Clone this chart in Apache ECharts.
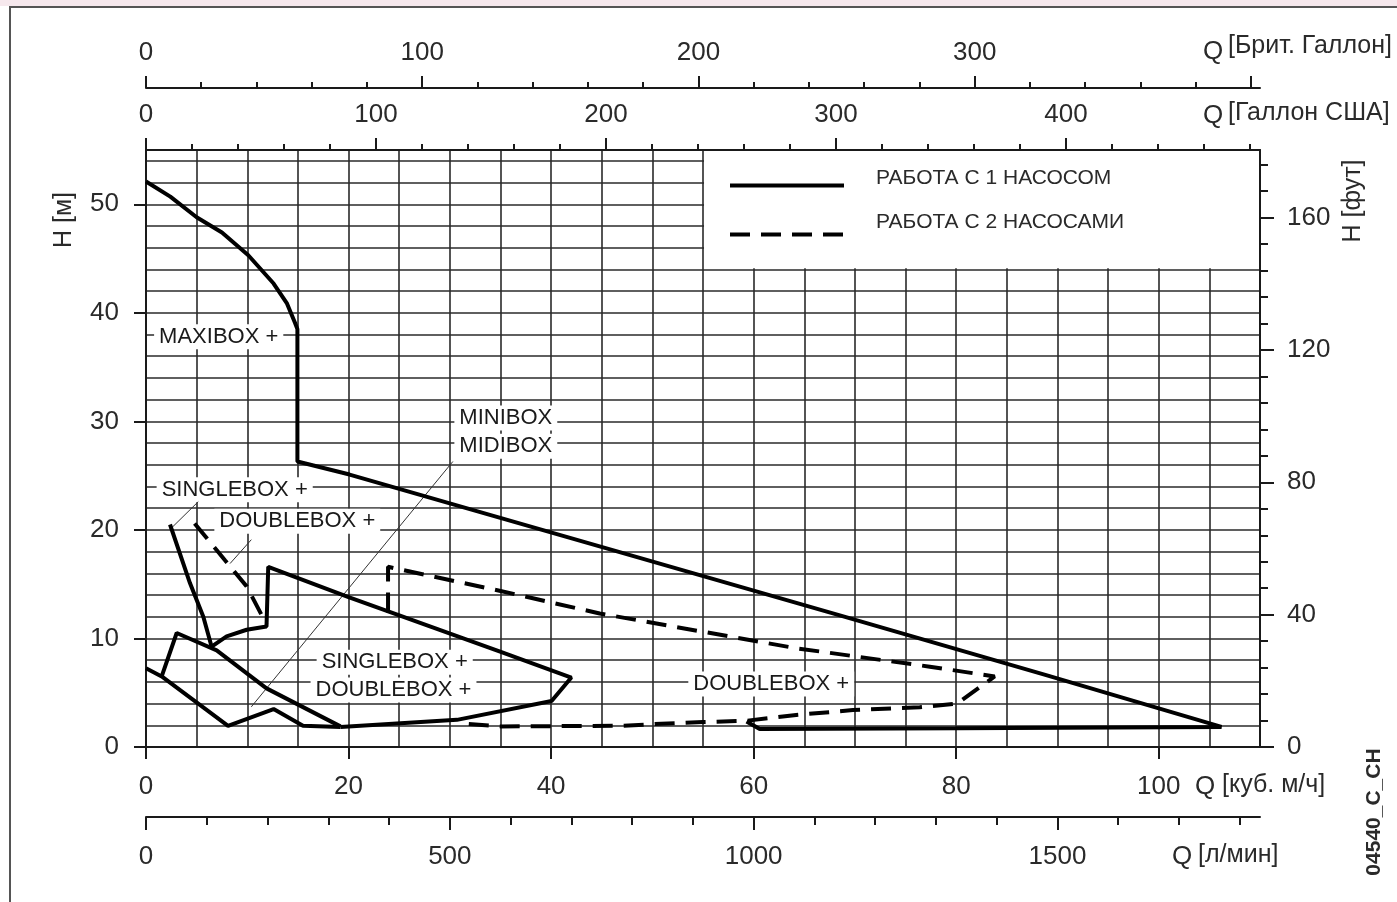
<!DOCTYPE html>
<html><head><meta charset="utf-8">
<script src="https://cdn.jsdelivr.net/npm/echarts@6/dist/echarts.min.js"></script>
<style>html,body{margin:0;padding:0;background:#fff}#c{width:1397px;height:902px}</style>
</head><body><div id="c"></div>
<script>
// ---------------- data ----------------
const SOLID = 'РАБОТА С 1 НАСОСОМ';
const DASHED = 'РАБОТА С 2 НАСОСАМИ';

// curves: [Q m3/h, H m]
const maxiBox1 = [[0,52.1],[2.4,50.7],[5.0,48.8],[7.5,47.4],[10.1,45.3],[12.6,42.7],[13.9,40.9],[14.7,39.1],[14.95,38.5],[14.95,26.3],[20.1,25.1],[46.6,18.0],[68.6,12.1],[88.8,6.65],[106.2,1.85],[80.0,1.72],[60.6,1.65],[59.3,2.35]];
const miniMidiLower = [[0,7.25],[1.55,6.5],[8.1,1.95],[12.6,3.5],[15.5,1.95],[19.2,1.85]];
const miniMidiUpper = [[1.55,6.5],[3.03,10.5],[6.98,8.9],[11.9,5.4],[19.2,1.9]];
const singleDoubleBox1 = [[19.2,1.85],[30.7,2.5],[40.05,4.24],[42.0,6.4],[34.9,8.8],[20.0,13.8],[12.07,16.6],[11.9,11.1],[9.94,10.8],[7.96,10.2],[6.48,9.24]];
const singleBox1 = [[6.48,9.24],[5.66,12.0],[4.34,15.1],[2.37,20.5]];
const doubleBox2Left = [[4.8,20.6],[7.8,17.2],[9.94,14.8],[11.9,11.3]];
const doubleBox2Right = [[23.9,12.4],[23.9,16.6],[34.9,14.4],[44.8,12.3],[64.2,9.1],[77.4,7.4],[83.8,6.5],[80.1,4.0],[76.4,3.66],[69.8,3.4],[64.2,2.95],[59.3,2.42],[55.0,2.3],[50.0,2.1],[46.8,1.95],[35.0,1.9],[30.9,2.2]];

// leader lines
const leaderMiniMidi = [[30.3,26.3],[10.4,3.7]];
const leaderSingle = [[5.16,22.6],[2.54,20.2]];
const leaderDouble = [[10.4,19.1],[8.3,16.9]];

// annotations: [text, Q, H]
const annotations = [
  ['MAXIBOX +', 0.75, 37.8],
  ['MINIBOX', 30.4, 30.3],
  ['MIDIBOX', 30.4, 27.7],
  ['SINGLEBOX +', 1.0, 23.7],
  ['DOUBLEBOX +', 6.7, 20.8],
  ['SINGLEBOX +', 16.8, 7.8],
  ['DOUBLEBOX +', 16.2, 5.25],
  ['DOUBLEBOX +', 53.5, 5.8]
];

// tick values
const flowM3hTicks = [0,20,40,60,80,100];
const flowLminMajor = [0,500,1000,1500];
const flowLminMinor = [0,100,200,300,400,500,600,700,800,900,1000,1100,1200,1300,1400,1500,1600,1700,1800];
const usGalMajor = [0,100,200,300,400];
const usGalMinor = [0,20,40,60,80,100,120,140,160,180,200,220,240,260,280,300,320,340,360,380,400,420,440,460,480];
const ukGalMajor = [0,100,200,300,400];
const ukGalLabels = [0,100,200,300];
const ukGalMinor = [0,20,40,60,80,100,120,140,160,180,200,220,240,260,280,300,320,340,360,380,400];
const headMTicks = [0,10,20,30,40,50];
const headFtMajor = [0,40,80,120,160];
const headFtMinor = [0,8,16,24,32,40,48,56,64,72,80,88,96,104,112,120,128,136,144,152,160,168,176];

// axis ranges & unit conversions
const Q_MAX = 110, H_MAX = 55;
const L_PER_M3H = 1000/60, UK_GAL_L = 4.54609, US_GAL_L = 3.785411784, FT_M = 0.3048;

// ---------------- styles ----------------
const FONT = '"Liberation Sans", Arial, Helvetica, sans-serif';
const TXT = '#2a2a2a', AX = '#1a1a1a', GRID = '#2a2a2a';
const TICK_FS = 26;

function tickAxis(base, ticks, len, labels, margin, showLine) {
  return Object.assign({
    type: 'value', gridIndex: 0, z: 3,
    axisLine: {show: !!showLine, onZero: false, lineStyle: {color: AX, width: 2}},
    axisTick: {show: true, customValues: ticks, length: len, lineStyle: {color: AX, width: 2}},
    axisLabel: labels ? {show: true, customValues: labels, margin: margin, color: TXT, fontSize: TICK_FS,
      fontFamily: FONT, formatter: v => String(v)} : {show: false},
    splitLine: {show: false}
  }, base);
}

const chart = echarts.init(document.getElementById('c'), null, {renderer: 'canvas'});

const lineSeries = (name, data, dashed) => ({
  type: 'line', name: name, data: data, xAxisIndex: 0, yAxisIndex: 0,
  symbol: 'none', silent: true, z: 5, animation: false,
  itemStyle: {color: '#000'},
  lineStyle: {color: '#000', width: 4, type: dashed ? [20, 11] : 'solid'}
});
const leaderSeries = (data) => ({
  type: 'line', name: 'leader', data: data, xAxisIndex: 0, yAxisIndex: 0,
  symbol: 'none', silent: true, z: 4, animation: false,
  lineStyle: {color: '#333', width: 1}
});

function legendFor(name, top, raise) {
  return {
    data: [name], orient: 'vertical', left: 728, top: top, padding: 0,
    itemWidth: 114, itemHeight: 20, selectedMode: false,
    lineStyle: {width: 4}, itemStyle: {opacity: 0},
    formatter: '{t|{name}}',
    textStyle: {fontSize: 21, color: TXT, fontFamily: FONT,
      rich: {t: {fontSize: 21, color: TXT, fontFamily: FONT, padding: [0, 0, raise * 2, 27]}}}
  };
}

function gtext(x, y, text, size, extra) {
  return Object.assign({
    type: 'text', x: x, y: y, z: 10,
    style: Object.assign({text: text, fontSize: size, fontFamily: FONT, fill: TXT, align: 'left', verticalAlign: 'middle'}, (extra && extra.style) || {})
  }, extra ? {rotation: extra.rotation || 0} : {});
}

chart.setOption({
  animation: false,
  backgroundColor: '#fff',
  grid: {left: 146, right: 137, top: 150, bottom: 155, containLabel: false, outerBoundsMode: 'none'},
  xAxis: [
    {type: 'value', gridIndex: 0, min: 0, max: Q_MAX, interval: 5, position: 'bottom', z: 0,
     axisLine: {show: false, onZero: false}, axisTick: {show: false}, axisLabel: {show: false},
     splitLine: {show: true, lineStyle: {color: GRID, width: 1.6}}},
    tickAxis({min: 0, max: Q_MAX, position: 'bottom', offset: 0}, flowM3hTicks, 12, flowM3hTicks, 27, true),
    tickAxis({min: 0, max: Q_MAX * L_PER_M3H, position: 'bottom', offset: 70}, flowLminMinor, 8, null, 0, true),
    tickAxis({min: 0, max: Q_MAX * L_PER_M3H, position: 'bottom', offset: 70}, flowLminMajor, 13, flowLminMajor, 27, false),
    tickAxis({min: 0, max: Q_MAX * L_PER_M3H / US_GAL_L, position: 'top', offset: 0}, usGalMinor, 6, null, 0, true),
    tickAxis({min: 0, max: Q_MAX * L_PER_M3H / US_GAL_L, position: 'top', offset: 0}, usGalMajor, 12, usGalMajor, 22, false),
    tickAxis({min: 0, max: Q_MAX * L_PER_M3H / UK_GAL_L, position: 'top', offset: 62}, ukGalMinor, 6, null, 0, true),
    tickAxis({min: 0, max: Q_MAX * L_PER_M3H / UK_GAL_L, position: 'top', offset: 62}, ukGalMajor, 12, ukGalLabels, 22, false)
  ],
  yAxis: [
    {type: 'value', gridIndex: 0, min: 0, max: H_MAX, interval: 2, position: 'left', z: 0,
     axisLine: {show: false, onZero: false}, axisTick: {show: false}, axisLabel: {show: false},
     splitLine: {show: true, lineStyle: {color: GRID, width: 1.6}}},
    tickAxis({min: 0, max: H_MAX, position: 'left', offset: 0}, headMTicks, 12, headMTicks, 27, true),
    tickAxis({min: 0, max: H_MAX / FT_M, position: 'right', offset: 0}, headFtMinor, 8, null, 0, true),
    tickAxis({min: 0, max: H_MAX / FT_M, position: 'right', offset: 0}, headFtMajor, 14, headFtMajor, 27, false)
  ],
  legend: [
    legendFor(SOLID, 168, 7),
    legendFor(DASHED, 212, 12)
  ],
  series: [
    {type: 'line', name: 'legendBox', data: [], xAxisIndex: 0, yAxisIndex: 0, z: 1, silent: true,
     markArea: {silent: true, itemStyle: {color: '#fff', opacity: 1, borderWidth: 0},
       data: [[{coord: [55.1, 44.1]}, {coord: [Q_MAX, H_MAX]}]]}},
    {type: 'scatter', name: 'annot', xAxisIndex: 0, yAxisIndex: 0, z: 2, silent: true,
     symbolSize: 1, itemStyle: {color: 'rgba(255,255,255,0)'},
     data: annotations.map(a => ({name: a[0], value: [a[1], a[2]]})),
     labelLayout: {hideOverlap: false},
     label: {show: true, position: 'right', distance: 0, formatter: '{b}', backgroundColor: '#fff',
       padding: [2, 5, 1, 5], color: '#1a1a1a', opacity: 1, fontSize: 22, fontFamily: FONT}},
    leaderSeries(leaderMiniMidi),
    leaderSeries(leaderSingle),
    leaderSeries(leaderDouble),
    lineSeries(SOLID, maxiBox1, false),
    lineSeries(SOLID, miniMidiLower, false),
    lineSeries(SOLID, miniMidiUpper, false),
    lineSeries(SOLID, singleDoubleBox1, false),
    lineSeries(SOLID, singleBox1, false),
    lineSeries(DASHED, doubleBox2Left, true),
    lineSeries(DASHED, doubleBox2Right, true)
  ],
  graphic: [
    {type: 'rect', shape: {x: 0, y: 0, width: 1397, height: 6}, style: {fill: '#f6e8ed'}, z: 0},
    {type: 'rect', shape: {x: 10, y: 7, width: 1500, height: 1000}, style: {fill: 'none', stroke: '#555', lineWidth: 2}, z: 0},
    gtext(1203, 52, 'Q', 26),
    gtext(1228, 46, '[Брит. Галлон]', 25),
    gtext(1203, 116, 'Q', 26),
    gtext(1228, 113, '[Галлон США]', 25),
    gtext(1195, 787, 'Q', 26),
    gtext(1222, 785, '[куб. м/ч]', 25),
    gtext(1172, 857, 'Q', 26),
    gtext(1198, 855, '[л/мин]', 25),
    gtext(64, 220, 'H [м]', 25, {rotation: Math.PI / 2, style: {align: 'center'}}),
    gtext(1353, 201, 'H [фут]', 25, {rotation: Math.PI / 2, style: {align: 'center'}}),
    gtext(1374, 812, '04540_C_CH', 21, {rotation: Math.PI / 2, style: {align: 'center', fontWeight: 'bold'}})
  ]
});
</script>
</body></html>
